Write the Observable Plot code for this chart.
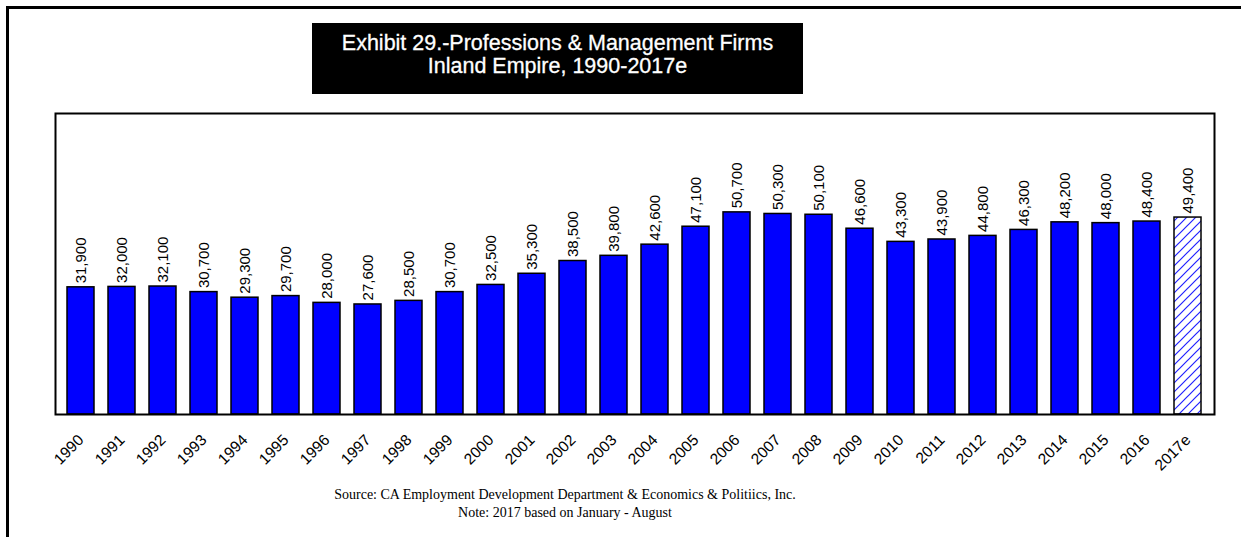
<!DOCTYPE html>
<html>
<head>
<meta charset="utf-8">
<script src="https://cdn.jsdelivr.net/npm/d3@7"></script>
<script src="https://cdn.jsdelivr.net/npm/@observablehq/plot@0.6"></script>
<style>
  html, body { margin: 0; padding: 0; background: #fff; }
  body { width: 1241px; height: 537px; overflow: hidden; position: relative; }
  #frame { position: absolute; left: 6px; top: 6px; width: 1300px; height: 600px; border: 3px solid #000; box-sizing: border-box; }
  #title { position: absolute; left: 312px; top: 23px; width: 491px; height: 71px; background: #000; color: #fff;
           font-family: "Liberation Sans", Arial, sans-serif; font-size: 21.5px; line-height: 23px; text-align: center;
           box-sizing: border-box; padding-top: 9px; -webkit-text-stroke: 0.3px #fff; }
  #chart { position: absolute; left: 0; top: 0; }
  #caption { position: absolute; left: 0; top: 486px; width: 1130px; text-align: center;
             font-family: "Liberation Serif", "Times New Roman", serif; font-size: 14px; line-height: 18px; color: #000; }
</style>
</head>
<body>
<div id="frame"></div>
<div id="chart"></div>
<div id="title">Exhibit 29.-Professions &amp; Management Firms<br>Inland Empire, 1990-2017e</div>
<div id="caption">Source: CA Employment Development Department &amp; Economics &amp; Politiics, Inc.<br>Note: 2017 based on January - August</div>
<script>
const years = ["1990","1991","1992","1993","1994","1995","1996","1997","1998","1999","2000","2001","2002","2003",
               "2004","2005","2006","2007","2008","2009","2010","2011","2012","2013","2014","2015","2016","2017e"];
const jobs = [31900,32000,32100,30700,29300,29700,28000,27600,28500,30700,32500,35300,38500,39800,
              42600,47100,50700,50300,50100,46600,43300,43900,44800,46300,48200,48000,48400,49400];
const estimateYears = ["2017e"];

const data = years.map((year, i) => ({year, value: jobs[i], est: estimateYears.includes(year)}));
const fmt = d3.format(",");

const chart = Plot.plot({
  width: 1241,
  height: 485,
  marginLeft: 55,
  marginRight: 27,
  marginTop: 113,
  marginBottom: 71,
  style: {background: "transparent", color: "#000", fontFamily: "'Liberation Sans', Arial, sans-serif", overflow: "visible"},
  x: {domain: years, paddingInner: 0.33, paddingOuter: 0.21, label: null},
  y: {domain: [0, 75500], axis: null},
  marks: [
    Plot.barY(data.filter(d => !d.est), {x: "year", y: "value", fill: "#0000ff", stroke: "#000", strokeWidth: 1.5}),
    Plot.barY(data.filter(d => d.est), {x: "year", y: "value", fill: "url(#hatch17)", stroke: "#000", strokeWidth: 1.5}),
    Plot.text(data, {x: "year", y: "value", text: d => fmt(d.value), rotate: -90, textAnchor: "start",
                     lineAnchor: "middle", dy: -4, fontSize: 15, fill: "#000"}),
    Plot.axisX({tickSize: 0, tickRotate: -45, tickPadding: 23, dx: 0, fontSize: 15.5, label: null}),
    Plot.frame({stroke: "#000", strokeWidth: 2})
  ]
});

const ns = "http://www.w3.org/2000/svg";
const defs = document.createElementNS(ns, "defs");
const pat = document.createElementNS(ns, "pattern");
pat.setAttribute("id", "hatch17");
pat.setAttribute("patternUnits", "userSpaceOnUse");
pat.setAttribute("width", "9");
pat.setAttribute("height", "9");
const bg = document.createElementNS(ns, "rect");
bg.setAttribute("width", "9");
bg.setAttribute("height", "9");
bg.setAttribute("style", "fill:#ffffff;stroke:none");
const ln = document.createElementNS(ns, "path");
ln.setAttribute("d", "M-2,2 L2,-2 M0,9 L9,0 M7,11 L11,7");
ln.setAttribute("style", "stroke:#2020ff;stroke-width:1.2;fill:none");
pat.appendChild(bg);
pat.appendChild(ln);
defs.appendChild(pat);
chart.insertBefore(defs, chart.firstChild);
document.getElementById("chart").appendChild(chart);
</script>
</body>
</html>
